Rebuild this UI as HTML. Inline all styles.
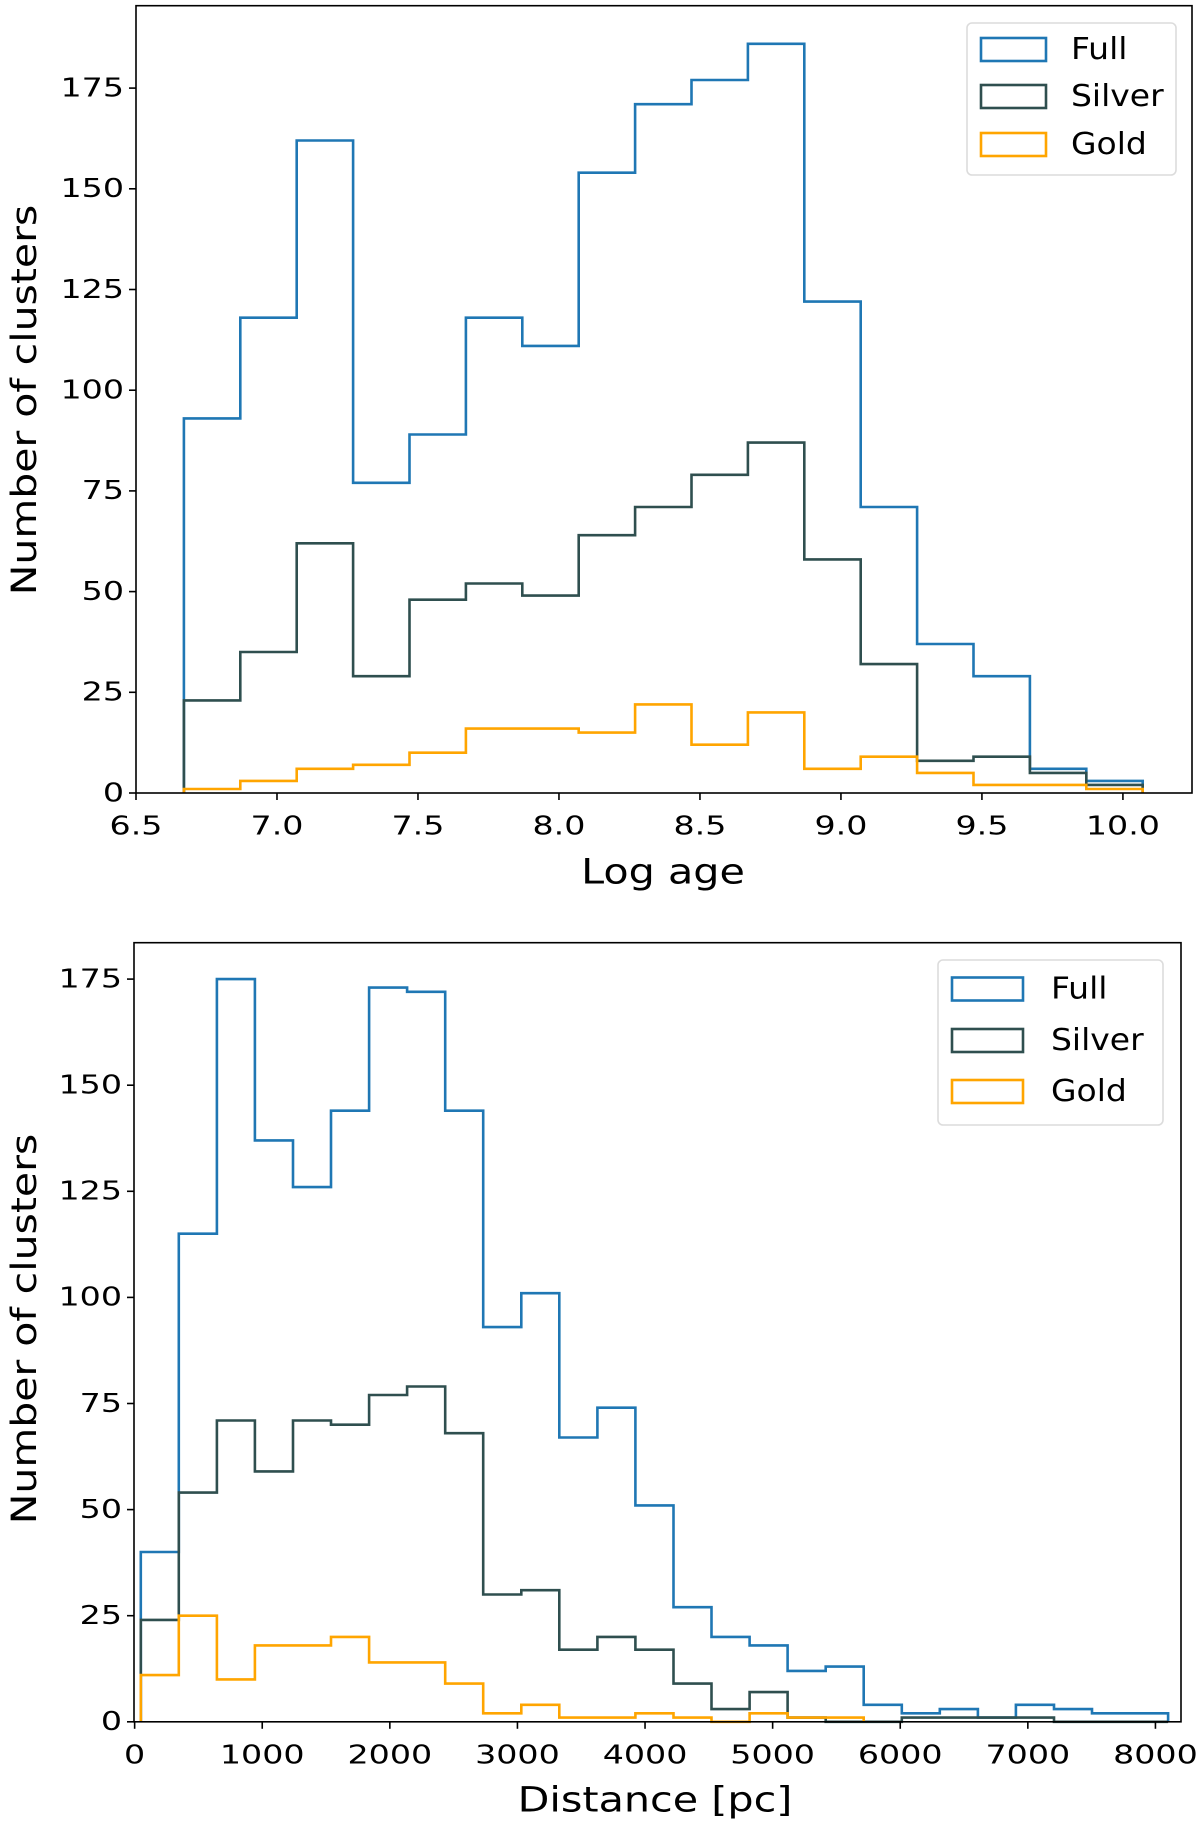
<!DOCTYPE html>
<html><head><meta charset="utf-8"><style>
html,body{margin:0;padding:0;background:#fff;}
svg{display:block;font-family:"DejaVu Sans","Liberation Sans",sans-serif;}
</style></head><body>
<svg id="fig" width="1200" height="1829" viewBox="0 0 1200 1829" xmlns="http://www.w3.org/2000/svg"></svg>
<script>
// ---- Top chart data (Log age) ----
const ageStart = 6.67;
const ageWidth = 0.2;
const ageFull = [93,118,162,77,89,118,111,154,171,177,186,122,71,37,29,6,3];
const ageSilver = [23,35,62,29,48,52,49,64,71,79,87,58,32,8,9,5,2];
const ageGold = [1,3,6,7,10,16,16,15,22,12,20,6,9,5,2,2,1];
const ageXTicks = ["6.5","7.0","7.5","8.0","8.5","9.0","9.5","10.0"];
const ageYTicks = [0,25,50,75,100,125,150,175];

// ---- Bottom chart data (Distance) ----
const distStart = 48;
const distWidth = 298.2;
const distFull = [40,115,175,137,126,144,173,172,144,93,101,67,74,51,27,20,18,12,13,4,2,3,1,4,3,2,2];
const distSilver = [24,54,71,59,71,70,77,79,68,30,31,17,20,17,9,3,7,1,0,0,1,1,1,1,0,0,0];
const distGold = [11,25,10,18,18,20,14,14,9,2,4,1,1,2,1,0,2,1,1];
const distXTicks = ["0","1000","2000","3000","4000","5000","6000","7000","8000"];
const distYTicks = [0,25,50,75,100,125,150,175];

const NS = "http://www.w3.org/2000/svg";
const svg = document.getElementById('fig');
function el(tag, attrs, parent){
  const e = document.createElementNS(NS, tag);
  for (const k in attrs) e.setAttribute(k, attrs[k]);
  (parent||svg).appendChild(e);
  return e;
}
function txt(parent, x, y, s, anchor, size, sc, rot){
  const t = el('text', {x:0, y:0, 'text-anchor':anchor, 'font-size':size, fill:'#000', 'dominant-baseline':'central',
    transform:'translate('+x+','+y+')' + (rot?' rotate('+rot+')':'') + ' scale('+sc+',1)'}, parent);
  t.textContent = s;
  return t;
}
const colors = {Full:"#1f77b4", Silver:"#2f4f4f", Gold:"#ffa500"};

function drawChart(cfg){
  const g = el('g', {});
  
  
  const {L,R,T,B,xmin,xmax,ymin,ymax} = cfg;
  const sx = v => L + (v - xmin) / (xmax - xmin) * (R - L);
  const sy = v => B - (v - ymin) / (ymax - ymin) * (B - T);
  const series = [["Full",cfg.full],["Silver",cfg.silver],["Gold",cfg.gold]];
  series.forEach(([nm, vals]) => {
    let pts = [];
    pts.push([sx(cfg.start), sy(0)]);
    vals.forEach((v,i) => {
      const a = cfg.start + i*cfg.width, b = cfg.start + (i+1)*cfg.width;
      pts.push([sx(a), sy(v)]);
      pts.push([sx(b), sy(v)]);
    });
    pts.push([sx(cfg.start + vals.length*cfg.width), sy(0)]);
    const p = el('polyline', {points: pts.map(q=>q[0].toFixed(1)+','+q[1].toFixed(1)).join(' '),
      fill:'none', stroke:colors[nm], 'stroke-width':2.6, 'stroke-linejoin':'miter'}, g);
    
    
  });
  const fr = el('rect', {x:L, y:T, width:R-L, height:B-T, fill:'none', stroke:'#000', 'stroke-width':1.6}, g);
  
  
  cfg.xticks.forEach(t => {
    const x = sx(parseFloat(t));
    el('line', {x1:x, x2:x, y1:B, y2:B+7, stroke:'#000', 'stroke-width':1.6}, g);
    const tx = txt(g, x, cfg.xTickY, t, 'middle', 26, 1.28);
    
    
  });
  cfg.yticks.forEach(t => {
    const y = sy(t);
    el('line', {x1:L-7, x2:L, y1:y, y2:y, stroke:'#000', 'stroke-width':1.6}, g);
    const ty = txt(g, L-12, y, String(t), 'end', 26, 1.28);
    
    
  });
  const xt = txt(g, cfg.xLabelX, cfg.xLabelY, cfg.xlabel, 'middle', 35, 1.18);
  
  
  const yt = txt(g, 24, cfg.yLabelY, 'Number of clusters', 'middle', 35, 1.17, -90);
  
  
  const lg = el('g', {}, g);
  
  
  const Lg = cfg.legend;
  el('rect', {x:Lg.x, y:Lg.y, width:Lg.w, height:Lg.h, rx:5, fill:'#fff', 'fill-opacity':0.8, stroke:'#dcdcdc', 'stroke-width':1.6}, lg);
  ["Full","Silver","Gold"].forEach((nm,i) => {
    const cy = Lg.rows[i];
    const ent = el('g', {}, lg);
    
    
    el('rect', {x:Lg.hx, y:cy-11.5, width:Lg.hw, height:23, fill:'none', stroke:colors[nm], 'stroke-width':2.6}, ent);
    txt(ent, Lg.tx, cy, nm, 'start', 30, 1.1);
  });
}

drawChart({name:'log-age-histogram', L:136, R:1192, T:5.7, B:793,
  xmin:6.5, xmax:10.245, ymin:0, ymax:(793-5.7)/100.7*25,
  start:ageStart, width:ageWidth, full:ageFull, silver:ageSilver, gold:ageGold,
  xticks:ageXTicks, yticks:ageYTicks, xTickY:826, xlabel:'Log age', xLabelX:663, xLabelY:872, yLabelY:400,
  legend:{x:967, y:23, w:209, h:152, hx:981, hw:65, tx:1071, rows:[49.5,96.5,144.5]}});

drawChart({name:'distance-histogram', L:134, R:1181, T:942.7, B:1721.8,
  xmin:-5, xmax:-5 + (1181-134)/127.6*1000, ymin:0, ymax:(1721.8-942.7)/106.1*25,
  start:distStart, width:distWidth, full:distFull, silver:distSilver, gold:distGold,
  xticks:distXTicks, yticks:distYTicks, xTickY:1755, xlabel:'Distance [pc]', xLabelX:655, xLabelY:1800, yLabelY:1329,
  legend:{x:938, y:960, w:225, h:165, hx:952, hw:71, tx:1051, rows:[989,1040.5,1091.5]}});
</script>
</body></html>
